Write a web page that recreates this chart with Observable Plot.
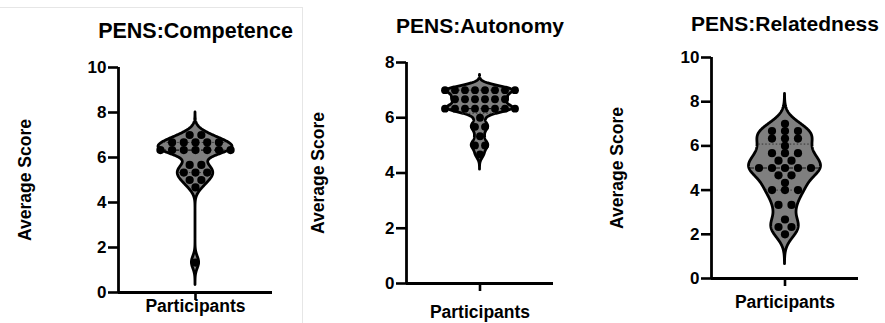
<!DOCTYPE html>
<html><head><meta charset="utf-8">
<script src="https://cdn.jsdelivr.net/npm/d3@7"></script>
<script src="https://cdn.jsdelivr.net/npm/@observablehq/plot@0.6"></script>
<style>
html,body{margin:0;padding:0;background:#fff;}
#chart{position:relative;width:885px;height:323px;overflow:hidden;background:#fff;}
.panel{position:absolute;top:0;}
.rule{position:absolute;background:#e6e6e6;}
</style></head><body>
<div id="chart"></div>
<script>
// ---------- data ----------
const titles = ["PENS:Competence", "PENS:Autonomy", "PENS:Relatedness"];
const yLabel = "Average Score";
const xLabel = "Participants";

const competence = [7, 7, 6.67, 6.67, 6.67, 6.67, 6.67, 6.33, 6.33, 6.33, 6.33, 6.33, 6.33, 6.33,
  5.67, 5.67, 5.33, 5.33, 5.33, 5, 5, 4.67, 1.33];
const autonomy = [7, 7, 7, 7, 7, 7, 7, 7, 6.67, 6.67, 6.67, 6.67, 6.67, 6.67,
  6.33, 6.33, 6.33, 6.33, 6.33, 6.33, 6.33, 6.33, 6, 5.67, 5.67, 5.33, 5, 5, 4.67];
const relatedness = [7, 6.67, 6.67, 6.67, 6.33, 6.33, 6.33, 6, 5.67, 5.67, 5.67, 5.33, 5.33,
  5, 5, 5, 5, 5, 4.67, 4.67, 4.33, 4, 4, 4, 3.33, 3.33, 2.67, 2.33, 2.33, 2];

const yTicksCompetence = [0, 2, 4, 6, 8, 10];
const yTicksAutonomy = [0, 2, 4, 6, 8];
const yTicksRelatedness = [0, 2, 4, 6, 8, 10];
const yMaxes = [10, 8, 10];

// ---------- layout / style ----------
const layout = [
  {left: 0,   width: 300, mt: 67, mb: 31, ml: 118, mr: 28, bw: 0.27, ext: 1.0,  half: 37, spacing: 11.7, r: 4.1, titleDy: -30, yLabDx: -93, xLabDy: 19, titleSize: 21.5},
  {left: 300, width: 290, mt: 62, mb: 40, ml: 106, mr: 37, bw: 0.15, ext: 0.55, half: 33, spacing: 10,   r: 3.9, titleDy: -30, yLabDx: -88, xLabDy: 34, titleSize: 21},
  {left: 590, width: 295, mt: 57, mb: 45, ml: 121, mr: 27, bw: 0.42, ext: 1.35, half: 36, spacing: 13,   r: 4.1, titleDy: -27, yLabDx: -94, xLabDy: 29.5, titleSize: 21}
];
const H = 323;
const FONT = "'Liberation Sans', Arial, Helvetica, sans-serif";

function kde(values, bw, y) {
  return d3.sum(values, v => Math.exp(-0.5 * ((y - v) / bw) ** 2));
}
function prismQuantile(sorted, p) {
  const pos = (sorted.length + 1) * p;
  const i = Math.floor(pos), f = pos - i;
  if (i < 1) return sorted[0];
  if (i >= sorted.length) return sorted[sorted.length - 1];
  return sorted[i - 1] + f * (sorted[i] - sorted[i - 1]);
}

function panel(values, ticks, yMax, title, L) {
  const halfAxis = (L.width - L.ml - L.mr) / 2;
  const lo = d3.min(values) - L.ext, hi = d3.max(values) + L.ext;
  const n = 400;
  const grid = d3.range(n + 1).map(i => lo + (hi - lo) * i / n);
  const dens = grid.map(y => ({y, d: kde(values, L.bw, y)}));
  const maxD = d3.max(dens, d => d.d);
  const k = (L.half / halfAxis) / maxD;
  const area = dens.map(d => ({y: d.y, w: d.d * k}));

  // dots: tied values spread symmetrically in rows
  const groups = d3.groups(values, v => Math.round(v * 100));
  const dots = [];
  for (const [, vs] of groups) {
    vs.forEach((v, i) => dots.push({v, x: (i - (vs.length - 1) / 2) * L.spacing / halfAxis}));
  }

  const sorted = values.slice().sort(d3.ascending);
  const wAt = y => kde(values, L.bw, y) * k - 1.2 / halfAxis;
  const med = prismQuantile(sorted, 0.5);
  const quarts = [prismQuantile(sorted, 0.25), prismQuantile(sorted, 0.75)];

  return Plot.plot({
    width: L.width, height: H,
    marginTop: L.mt, marginBottom: L.mb, marginLeft: L.ml, marginRight: L.mr,
    x: {domain: [-1, 1], axis: null},
    y: {domain: [0, yMax], axis: null},
    style: {fontFamily: FONT, fontWeight: "bold", color: "black", background: "transparent", overflow: "visible"},
    marks: [
      Plot.areaX(area, {y: "y", x1: d => -d.w, x2: d => d.w, fill: "#7f7f7f", stroke: "black", strokeWidth: 2.8, strokeLinejoin: "round", curve: "linear"}),
      Plot.ruleY(quarts, {y: d => d, x1: d => -wAt(d), x2: d => wAt(d), stroke: "#333", strokeWidth: 1, strokeDasharray: "1.5,2"}),
      Plot.ruleY([med], {y: d => d, x1: d => -wAt(d), x2: d => wAt(d), stroke: "#111", strokeWidth: 1.2, strokeDasharray: "4,2.5"}),
      Plot.dot(dots, {x: "x", y: "v", r: L.r, fill: "black", stroke: "none"}),
      Plot.ruleX([-1], {stroke: "black", strokeWidth: 2.8}),
      Plot.ruleY([0], {stroke: "black", strokeWidth: 2.8}),
      Plot.axisY({ticks, tickSize: 10, tickPadding: 2, fontSize: 17, strokeWidth: 2.6, label: null}),
      Plot.axisX({ticks: [0], tickSize: 8, tickFormat: () => "", strokeWidth: 2.6, label: null}),
      Plot.text([title], {text: d => d, frameAnchor: "top", dy: L.titleDy, lineAnchor: "bottom", textAnchor: "middle", fontSize: L.titleSize, fill: "black"}),
      Plot.text([yLabel], {text: d => d, frameAnchor: "left", rotate: -90, dx: L.yLabDx, textAnchor: "middle", lineAnchor: "middle", fontSize: 17.5, fill: "black"}),
      Plot.text([xLabel], {text: d => d, frameAnchor: "bottom", dy: L.xLabDy, lineAnchor: "bottom", textAnchor: "middle", fontSize: 17.5, fill: "black"})
    ]
  });
}

const chart = document.getElementById("chart");
const sets = [competence, autonomy, relatedness];
const tickSets = [yTicksCompetence, yTicksAutonomy, yTicksRelatedness];

// faint image borders
const b1 = document.createElement("div"); b1.className = "rule";
Object.assign(b1.style, {left: "0px", top: "7px", width: "302px", height: "1px"});
const b2 = document.createElement("div"); b2.className = "rule";
Object.assign(b2.style, {left: "302px", top: "7px", width: "1px", height: "316px"});
chart.append(b1, b2);

sets.forEach((vals, i) => {
  const L = layout[i];
  const svg = panel(vals, tickSets[i], yMaxes[i], titles[i], L);
  const wrap = document.createElement("div");
  wrap.className = "panel";
  wrap.style.left = L.left + "px";
  wrap.append(svg);
  chart.append(wrap);
});
</script>
</body></html>
